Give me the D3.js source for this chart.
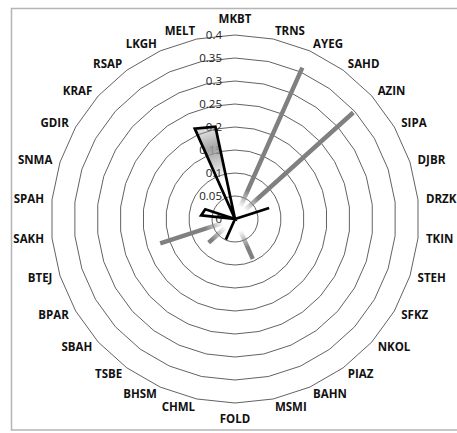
<!DOCTYPE html>
<html><head><meta charset="utf-8">
<script src="https://cdn.jsdelivr.net/npm/d3@7"></script>
<style>body{margin:0;background:#fff}svg{display:block}</style></head>
<body><svg id="c" width="457" height="433"></svg>
<script>
const categories = ["MKBT","TRNS","AYEG","SAHD","AZIN","SIPA","DJBR","DRZK","TKIN","STEH","SFKZ","NKOL","PIAZ","BAHN","MSMI","FOLD","CHML","BHSM","TSBE","SBAH","BPAR","BTEJ","SAKH","SPAH","SNMA","GDIR","KRAF","RSAP","LKGH","MELT"];
const seriesBlack = [0,0,0,0,0,0,0.078,0,0,0,0,0,0,0,0,0,0,0.049,0,0,0,0,0,0.074,0.068,0,0,0,0.215,0.205];
const seriesGray  = [0,0,0.36,0,0.346,0,0,0,0,0,0,0,0,0.095,0,0,0,0,0,0.077,0,0.171,0,0,0,0,0,0,0,0];
const tickValues = [0,0.05,0.1,0.15,0.2,0.25,0.3,0.35,0.4];
const tickLabels = ["0","0.05","0.1","0.15","0.2","0.25","0.3","0.35","0.4"];

const svg = d3.select("#c");
const cx = 235, cy = 219, R = 184;
const n = categories.length;
const r = d3.scaleLinear().domain([0,0.4]).range([0,R]);
const ang = d3.scaleLinear().domain([0,n]).range([0,2*Math.PI]);

// chart border
svg.append("rect").attr("x",11.5).attr("y",8.5).attr("width",470).attr("height",421.5)
  .attr("fill","none").attr("stroke","#b5b5b5").attr("stroke-width",1.5);

const defs = svg.append("defs");
const gg = defs.append("radialGradient").attr("id","grayFade").attr("gradientUnits","userSpaceOnUse")
  .attr("cx",0).attr("cy",0).attr("r",R);
gg.append("stop").attr("offset",0).attr("stop-color","#808080").attr("stop-opacity",0);
gg.append("stop").attr("offset",0.07).attr("stop-color","#808080").attr("stop-opacity",0);
gg.append("stop").attr("offset",0.17).attr("stop-color","#808080").attr("stop-opacity",1);
gg.append("stop").attr("offset",1).attr("stop-color","#808080").attr("stop-opacity",1);
const bf = defs.append("radialGradient").attr("id","blackFill").attr("gradientUnits","userSpaceOnUse")
  .attr("cx",0).attr("cy",0).attr("r",R);
bf.append("stop").attr("offset",0).attr("stop-color","#9a9a9a").attr("stop-opacity",0);
bf.append("stop").attr("offset",0.22).attr("stop-color","#9a9a9a").attr("stop-opacity",0);
bf.append("stop").attr("offset",0.40).attr("stop-color","#9a9a9a").attr("stop-opacity",0.9);
bf.append("stop").attr("offset",0.5).attr("stop-color","#9a9a9a").attr("stop-opacity",0.35);
bf.append("stop").attr("offset",1).attr("stop-color","#9a9a9a").attr("stop-opacity",0.35);
defs.append("filter").attr("id","soft").append("feGaussianBlur").attr("stdDeviation",0.6);

const g = svg.append("g").attr("transform",`translate(${cx},${cy})`);

// grid rings
const ring = d3.lineRadial().angle((d,i)=>ang(i)).radius(d=>r(d)).curve(d3.curveLinearClosed);
g.selectAll("path.grid").data(tickValues.filter(t=>t>0)).join("path").attr("class","grid")
  .attr("d",t=>ring(categories.map(()=>t)))
  .attr("fill","none").attr("stroke","#3a3a3a").attr("stroke-width",0.8);

// tick labels
g.selectAll("text.tick").data(tickValues).join("text").attr("class","tick")
  .attr("x",-13).attr("y",t=>-r(t)).attr("dy","0.35em").attr("text-anchor","end")
  .attr("font-family","Open Sans").attr("font-size",11.5).attr("fill","#1a1a1a")
  .text((t,i)=>tickLabels[i]);

// category labels
const LR = R + 8;
g.selectAll("text.cat").data(categories).join("text").attr("class","cat")
  .each(function(c,i){
    const a = ang(i), s = Math.sin(a), co = Math.cos(a);
    let x = LR*s, y = -LR*co, anchor = "middle";
    if (Math.abs(s) < 1e-6) { y += (co > 0 ? -8 : 8); }
    else anchor = s > 0 ? "start" : "end";
    d3.select(this).attr("x",x).attr("y",y).attr("text-anchor",anchor);
  })
  .attr("dy","0.35em").attr("font-family","Open Sans").attr("font-weight","bold")
  .attr("font-size",11.5).attr("fill","#111").text(d=>d);

// series
const line = d3.lineRadial().angle((d,i)=>ang(i)).radius(d=>r(d)).curve(d3.curveLinearClosed);
g.append("path").attr("d",line(seriesGray)).attr("fill","none")
  .attr("stroke","url(#grayFade)").attr("stroke-width",4.4).attr("stroke-linejoin","miter")
  .attr("filter","url(#soft)");
g.append("path").attr("d",line(seriesBlack)).attr("fill","url(#blackFill)")
  .attr("stroke","#000").attr("stroke-width",2.7).attr("stroke-linejoin","miter")
  .attr("stroke-miterlimit",4);
</script></body></html>
